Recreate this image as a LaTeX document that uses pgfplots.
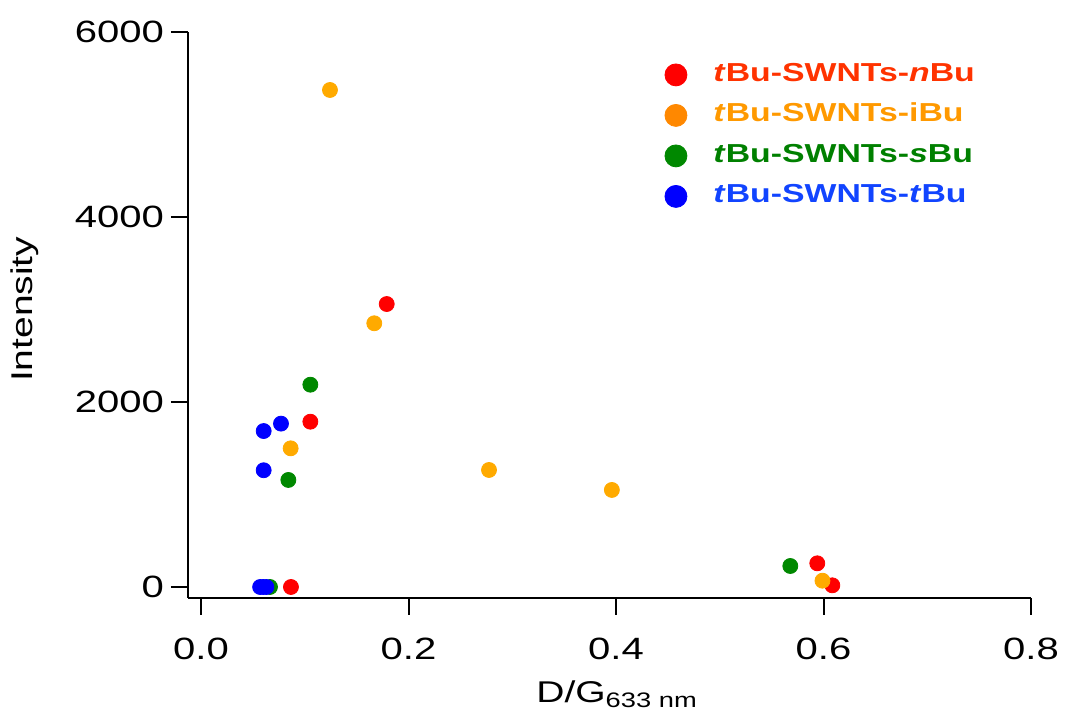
\documentclass[border=0pt]{standalone}
\usepackage{fontspec}
\setmainfont{Liberation Sans}[FakeStretch=1.3]
\usepackage{pgfplots}
\pgfplotsset{compat=1.18}
\usetikzlibrary{calc}
\definecolor{cred}{RGB}{255,0,0}
\definecolor{corange}{RGB}{255,170,0}
\definecolor{cgreen}{RGB}{0,136,0}
\definecolor{cblue}{RGB}{0,0,255}
\definecolor{lred}{RGB}{255,0,0}
\definecolor{lorange}{RGB}{255,136,0}
\definecolor{tred}{RGB}{255,51,0}
\definecolor{torange}{RGB}{255,153,0}
\definecolor{tgreen}{RGB}{0,128,0}
\definecolor{tblue}{RGB}{17,68,255}
\begin{document}
\begin{tikzpicture}
\begin{axis}[
  name=ax,
  scale only axis,
  width=421.5pt, height=283pt,
  xmin=-0.01253, xmax=0.8,
  ymin=-119, ymax=6000,
  axis lines=left,
  axis line style={-, line width=1pt, black},
  every tick/.style={line width=1pt, black},
  tick align=outside,
  major tick length=8.5pt,
  xtick={0,0.2,0.4,0.6,0.8},
  ytick={0,2000,4000,6000},
  /pgf/number format/assume math mode=true,
  xticklabel style={/pgf/number format/fixed, /pgf/number format/precision=1, /pgf/number format/fixed zerofill, font=\fontsize{15.4}{18}\selectfont, yshift=-8pt},
  yticklabel style={/pgf/number format/1000 sep={}, font=\fontsize{15.4}{18}\selectfont},
  scaled ticks=false,
  clip=false,
  every axis y label/.style={at={(rel axis cs:0,0.51)}, xshift=-81.5pt, rotate=90, anchor=center, font=\fontsize{15}{18}\selectfont},
  every axis x label/.style={at={(rel axis cs:0.509,0)}, yshift=-52.5pt, anchor=base, font=\fontsize{15}{18}\selectfont},
  xlabel={D/G\textsubscript{633 nm}},
  ylabel={Intensity},
  legend style={at={(0.5577,0.9558)}, anchor=north west, draw=none, fill=none,
    font=\bfseries\fontsize{13}{15}\selectfont, row sep=6.75pt, column sep=12pt,
    nodes={inner sep=1pt, text height=9pt, text depth=2.5pt}},
  legend cell align=left,
]
\addplot[only marks, mark=*, mark size=3.75pt, color=cred, mark options={draw=none, fill=cred},
  legend image code/.code={\fill[lred] (0.3cm,0) circle (5.5pt);}]
  coordinates {(0.179,3059) (0.1054,1787) (0.0867,0) (0.594,256) (0.6085,18)};
\addlegendentry{\textcolor{tred}{\textit{t}Bu-SWNTs-\textit{n}Bu}}
\addplot[only marks, mark=*, mark size=3.75pt, color=corange, mark options={draw=none, fill=corange},
  legend image code/.code={\fill[lorange] (0.3cm,0) circle (5.5pt);}]
  coordinates {(0.1243,5373) (0.167,2851) (0.0864,1499) (0.2776,1265) (0.396,1049) (0.599,68)};
\addlegendentry{\textcolor{torange}{\textit{t}Bu-SWNTs-iBu}}
\addplot[only marks, mark=*, mark size=3.75pt, color=cgreen, mark options={draw=none, fill=cgreen},
  legend image code/.code={\fill[cgreen] (0.3cm,0) circle (5.5pt);}]
  coordinates {(0.1054,2187) (0.0842,1157) (0.0665,0) (0.568,227)};
\addlegendentry{\textcolor{tgreen}{\textit{t}Bu-SWNTs-\textit{s}Bu}}
\addplot[only marks, mark=*, mark size=3.75pt, color=cblue, mark options={draw=none, fill=cblue},
  legend image code/.code={\fill[cblue] (0.3cm,0) circle (5.5pt);}]
  coordinates {(0.0771,1766) (0.0604,1686) (0.0604,1262) (0.057,0) (0.060,0) (0.063,0)};
\addlegendentry{\textcolor{tblue}{\textit{t}Bu-SWNTs-\textit{t}Bu}}
\end{axis}
\pgfresetboundingbox
\path[use as bounding box] ($(ax.south west)+(-94pt,-58.5pt)$) rectangle ($(ax.north east)+(17pt,16pt)$);
\end{tikzpicture}
\end{document}
